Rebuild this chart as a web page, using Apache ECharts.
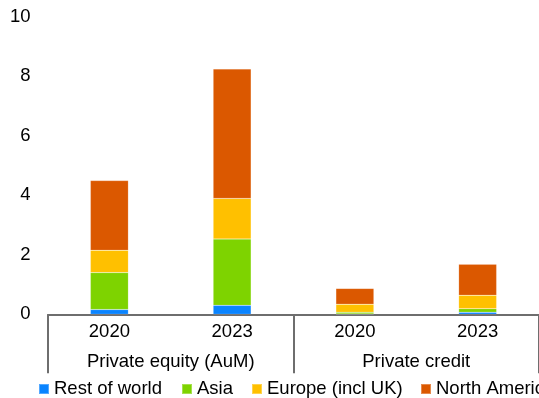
<!DOCTYPE html>
<html>
<head>
<meta charset="utf-8">
<script src="https://cdn.jsdelivr.net/npm/echarts@6/dist/echarts.min.js"></script>
<style>
html,body{margin:0;padding:0;background:#fff;}
#chart{width:539px;height:398px;}
</style>
</head>
<body>
<div id="chart"></div>
<script>
const years = ['2020', '2023', '2020', '2023'];
const groups = ['Private equity (AuM)', 'Private credit'];
const yTicks = [0, 2, 4, 6, 8, 10];
const seriesNames = ['Rest of world', 'Asia', 'Europe (incl UK)', 'North America'];
const restOfWorld = [0.16, 0.30, 0.01, 0.07];
const asia = [1.24, 2.23, 0.06, 0.12];
const europe = [0.75, 1.36, 0.27, 0.45];
const northAmerica = [2.34, 4.35, 0.53, 1.04];

const colors = ['#0a84ff', '#7ed300', '#ffc000', '#db5800'];
const values = [restOfWorld, asia, europe, northAmerica];
const FONT = 'Liberation Sans, Arial, sans-serif';
const FS = 18.5;
const legendLefts = [38, 181, 251, 420];

const chart = echarts.init(document.getElementById('chart'));
chart.setOption({
  animation: false,
  textStyle: { fontFamily: FONT },
  grid: { left: 48, right: 0, top: 16.5, bottom: 83.7, containLabel: false },
  legend: seriesNames.map((n, i) => ({
    data: [n],
    left: legendLefts[i],
    top: 379.5,
    padding: 0,
    itemWidth: 10,
    itemHeight: 10,
    icon: 'rect',
    textStyle: { fontSize: FS, color: '#000', fontFamily: FONT }
  })),
  xAxis: [
    {
      type: 'category',
      data: years,
      position: 'bottom',
      axisLine: { show: true, lineStyle: { color: '#6e6e6e', width: 2 } },
      axisTick: { show: false },
      axisLabel: { fontSize: FS, color: '#000', margin: 8, fontFamily: FONT },
      splitLine: { show: false }
    },
    {
      type: 'category',
      data: groups,
      position: 'bottom',
      axisLine: { show: false },
      axisTick: { show: true, length: 59, lineStyle: { color: '#6e6e6e', width: 2 } },
      axisLabel: { fontSize: FS, color: '#000', margin: 38, fontFamily: FONT },
      splitLine: { show: false }
    }
  ],
  yAxis: {
    type: 'value',
    min: yTicks[0],
    max: yTicks[yTicks.length - 1],
    interval: 2,
    axisLine: { show: false },
    axisTick: { show: false },
    splitLine: { show: false },
    axisLabel: { fontSize: FS, color: '#000', margin: 17.5, fontFamily: FONT }
  },
  series: seriesNames.map((n, i) => ({
    name: n,
    type: 'bar',
    stack: 'total',
    xAxisIndex: 0,
    barWidth: 38,
    data: values[i],
    itemStyle: { color: colors[i], borderColor: 'rgba(255,255,255,0.3)', borderWidth: 0.5 }
  })),
  color: colors
});
</script>
</body>
</html>
